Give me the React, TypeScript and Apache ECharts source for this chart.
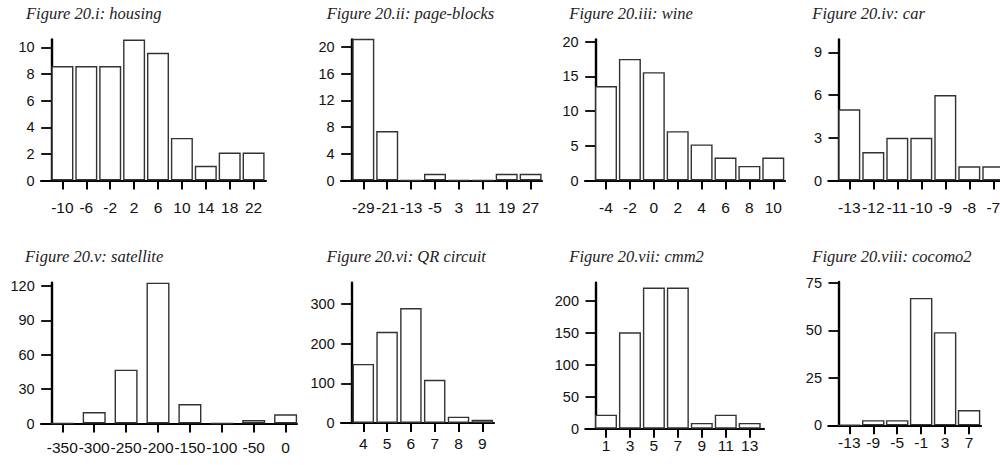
import React, { useEffect, useRef } from "react";
import * as echarts from "echarts";

// ---------- data ----------
const housingLabels = ["-10", "-6", "-2", "2", "6", "10", "14", "18", "22"];
const housingValues = [8.6, 8.6, 8.6, 10.6, 9.6, 3.2, 1.1, 2.1, 2.1];
const housingYTicks = [0, 2, 4, 6, 8, 10];

const pageBlocksLabels = ["-29", "-21", "-13", "-5", "3", "11", "19", "27"];
const pageBlocksValues = [21.2, 7.4, 0, 1, 0, 0, 1, 1];
const pageBlocksYTicks = [0, 4, 8, 12, 16, 20];

const wineLabels = ["-4", "-2", "0", "2", "4", "6", "8", "10"];
const wineValues = [13.6, 17.5, 15.6, 7.1, 5.2, 3.3, 2.1, 3.3];
const wineYTicks = [0, 5, 10, 15, 20];

const carLabels = ["-13", "-12", "-11", "-10", "-9", "-8", "-7"];
const carValues = [5, 2, 3, 3, 6, 1, 1];
const carYTicks = [0, 3, 6, 9];

const satelliteLabels = ["-350", "-300", "-250", "-200", "-150", "-100", "-50", "0"];
const satelliteValues = [0, 10, 47, 123, 17, 0, 3, 8];
const satelliteYTicks = [0, 30, 60, 90, 120];

const qrLabels = ["4", "5", "6", "7", "8", "9"];
const qrValues = [149, 230, 290, 109, 16, 8];
const qrYTicks = [0, 100, 200, 300];

const cmm2Labels = ["1", "3", "5", "7", "9", "11", "13"];
const cmm2Values = [22, 151, 221, 221, 9, 22, 9];
const cmm2YTicks = [0, 50, 100, 150, 200];

const cocomoLabels = ["-13", "-9", "-5", "-1", "3", "7"];
const cocomoValues = [0, 2.7, 2.7, 67, 49, 8];
const cocomoYTicks = [0, 25, 50, 75];

const titles = [
  "Figure 20.i: housing",
  "Figure 20.ii: page-blocks",
  "Figure 20.iii: wine",
  "Figure 20.iv: car",
  "Figure 20.v: satellite",
  "Figure 20.vi: QR circuit",
  "Figure 20.vii: cmm2",
  "Figure 20.viii: cocomo2",
];
const yMaxes = [10.6, 21.1, 20.3, 9.9, 123, 354, 228.7, 75.4];

const panelData = [
  { labels: housingLabels, values: housingValues, yTicks: housingYTicks },
  { labels: pageBlocksLabels, values: pageBlocksValues, yTicks: pageBlocksYTicks },
  { labels: wineLabels, values: wineValues, yTicks: wineYTicks },
  { labels: carLabels, values: carValues, yTicks: carYTicks },
  { labels: satelliteLabels, values: satelliteValues, yTicks: satelliteYTicks },
  { labels: qrLabels, values: qrValues, yTicks: qrYTicks },
  { labels: cmm2Labels, values: cmm2Values, yTicks: cmm2YTicks },
  { labels: cocomoLabels, values: cocomoValues, yTicks: cocomoYTicks },
];

// ---------- layout (pixels) ----------
const TICK = 10.7;
const layouts = [
  { tx: 26, ty: 13.3, ax: 51.7, c0: 62.4, step: 23.9, right: 266, top: 39.5, bottom: 180.5, barW: 22, lm: 18.5 },
  { tx: 326.7, ty: 13.3, ax: 351.7, c0: 363.3, step: 23.9, right: 542, top: 39.5, bottom: 180.5, barW: 22, lm: 18.5 },
  { tx: 569.3, ty: 13.3, ax: 595.7, c0: 606, step: 23.9, right: 785, top: 39.5, bottom: 180.5, barW: 22, lm: 18.5 },
  { tx: 812.3, ty: 13.3, ax: 839, c0: 849.3, step: 24, right: 1008, top: 39.5, bottom: 180.5, barW: 22, lm: 18.5 },
  { tx: 25, ty: 256.3, ax: 51.7, c0: 62.3, step: 31.9, right: 297, top: 282.7, bottom: 423.5, barW: 23, lm: 16 },
  { tx: 326.7, ty: 256.3, ax: 351.7, c0: 363.3, step: 23.8, right: 494, top: 282.7, bottom: 423, barW: 21.5, lm: 12.5 },
  { tx: 569.3, ty: 256.3, ax: 596, c0: 606, step: 23.95, right: 764, top: 282.7, bottom: 428.7, barW: 22, lm: 9 },
  { tx: 812.3, ty: 256.3, ax: 839, c0: 849.3, step: 23.95, right: 981, top: 282, bottom: 425.3, barW: 22.5, lm: 9 },
];

const SANS = '"Liberation Sans", Arial, Helvetica, sans-serif';
const SERIF = '"Liberation Serif", "Times New Roman", serif';

function buildOption() {
  const grid: any[] = [];
  const xAxis: any[] = [];
  const yAxis: any[] = [];
  const series: any[] = [];
  const graphic: any[] = [];

  panelData.forEach((p, i) => {
    const L = layouts[i];
    const left = L.ax - TICK;
    grid.push({
      left,
      top: L.top,
      width: L.right - left,
      height: L.bottom - L.top,
      outerBoundsMode: "none",
      containLabel: false,
    });
    const idx = p.labels.map((_, k) => k);
    xAxis.push({
      type: "value",
      gridIndex: i,
      min: (left - L.c0) / L.step,
      max: (L.right - L.c0) / L.step,
      splitLine: { show: false },
      axisLine: { show: true, onZero: false, lineStyle: { color: "#000", width: 2.2 } },
      axisTick: { show: true, length: 9, customValues: idx, lineStyle: { color: "#000", width: 2 } },
      axisLabel: {
        show: true,
        customValues: idx,
        margin: L.lm,
        fontSize: 15.5,
        fontFamily: SANS,
        color: "#111",
        formatter: (v: number) => p.labels[Math.round(v)] ?? "",
      },
    });
    yAxis.push({
      type: "value",
      gridIndex: i,
      min: 0,
      max: yMaxes[i],
      offset: -(L.ax - left),
      splitLine: { show: false },
      axisLine: { show: true, onZero: false, lineStyle: { color: "#000", width: 2.4 } },
      axisTick: { show: true, length: 10.5, customValues: p.yTicks, lineStyle: { color: "#000", width: 1.8 } },
      axisLabel: {
        show: true,
        customValues: p.yTicks,
        margin: 17,
        fontSize: 14.5,
        fontFamily: SANS,
        color: "#111",
      },
    });
    series.push({
      type: "bar",
      xAxisIndex: i,
      yAxisIndex: i,
      barWidth: L.barW,
      data: p.values.map((v, k) => [k, v]),
      itemStyle: { color: "#fff", borderColor: "#333", borderWidth: 1.4 },
      emphasis: { disabled: true },
      silent: true,
    });
    graphic.push({
      type: "text",
      x: L.tx,
      y: L.ty,
      silent: true,
      style: {
        text: titles[i],
        fontFamily: SERIF,
        fontStyle: "italic",
        fontSize: 16.5,
        fill: "#222",
        verticalAlign: "middle",
        align: "left",
      },
    });
  });

  return { animation: false, backgroundColor: "#fff", grid, xAxis, yAxis, series, graphic };
}

export default function App() {
  const ref = useRef<HTMLDivElement>(null);
  useEffect(() => {
    if (!ref.current) return;
    const chart = echarts.init(ref.current, undefined, { renderer: "svg" });
    chart.setOption(buildOption());
    return () => chart.dispose();
  }, []);
  return (
    <div
      ref={ref}
      style={{ position: "fixed", left: 0, top: 0, width: 1000, height: 465, background: "#fff" }}
    />
  );
}
